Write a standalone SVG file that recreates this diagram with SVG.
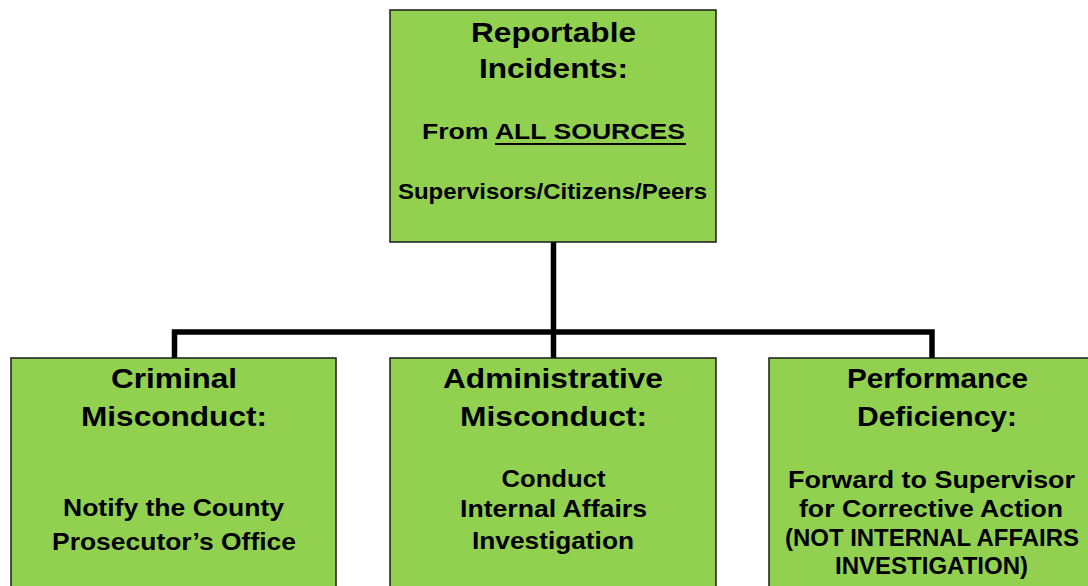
<svg xmlns="http://www.w3.org/2000/svg" width="1088" height="586" viewBox="0 0 1088 586">
<style>
.box{fill:#92D050;stroke:#1a1a1a;stroke-width:1.5}
.conn{fill:none;stroke:#000;stroke-width:5.5;stroke-linecap:butt;stroke-linejoin:miter}
text{font-family:"Liberation Sans",Arial,sans-serif;font-weight:bold;fill:#000;text-anchor:middle}
.h{font-size:28.5px}
.s{font-size:24px}
.t{font-size:21.5px}
.u{stroke:#000;stroke-width:2}
</style>
<rect width="1088" height="586" fill="#fff"/>
<g id="connectors">
<path class="conn" d="M553.5,242 V332"/>
<path class="conn" d="M174.5,358 V332 H932 V358"/>
<path class="conn" d="M553.5,332 V358"/>
</g>
<g id="node-reportable">
<rect class="box" x="390" y="10" width="326" height="232"/>
<text class="h" x="553.5" y="42" textLength="165" lengthAdjust="spacingAndGlyphs">Reportable</text>
<text class="h" x="553.5" y="78" textLength="149" lengthAdjust="spacingAndGlyphs">Incidents:</text>
<text class="t" x="553.5" y="138.5" textLength="263" lengthAdjust="spacingAndGlyphs">From ALL SOURCES</text>
<line class="u" x1="495" y1="144" x2="686" y2="144"/>
<text class="t" x="552.5" y="199" textLength="309" lengthAdjust="spacingAndGlyphs">Supervisors/Citizens/Peers</text>
</g>
<g id="node-criminal">
<rect class="box" x="11" y="358" width="325" height="240"/>
<text class="h" x="174" y="388" textLength="126" lengthAdjust="spacingAndGlyphs">Criminal</text>
<text class="h" x="174" y="426" textLength="186" lengthAdjust="spacingAndGlyphs">Misconduct:</text>
<text class="s" x="173.5" y="516" textLength="221" lengthAdjust="spacingAndGlyphs">Notify the County</text>
<text class="s" x="174" y="550" textLength="244" lengthAdjust="spacingAndGlyphs">Prosecutor’s Office</text>
</g>
<g id="node-administrative">
<rect class="box" x="390" y="358" width="326" height="240"/>
<text class="h" x="553" y="388" textLength="220" lengthAdjust="spacingAndGlyphs">Administrative</text>
<text class="h" x="553.5" y="426" textLength="187" lengthAdjust="spacingAndGlyphs">Misconduct:</text>
<text class="s" x="553.5" y="487" textLength="104" lengthAdjust="spacingAndGlyphs">Conduct</text>
<text class="s" x="553.5" y="517" textLength="187" lengthAdjust="spacingAndGlyphs">Internal Affairs</text>
<text class="s" x="553" y="549" textLength="162" lengthAdjust="spacingAndGlyphs">Investigation</text>
</g>
<g id="node-performance">
<rect class="box" x="769" y="358" width="330" height="240"/>
<text class="h" x="937.5" y="388" textLength="181" lengthAdjust="spacingAndGlyphs">Performance</text>
<text class="h" x="937" y="426" textLength="160" lengthAdjust="spacingAndGlyphs">Deficiency:</text>
<text class="s" x="931.5" y="488" textLength="287" lengthAdjust="spacingAndGlyphs">Forward to Supervisor</text>
<text class="s" x="931" y="517" textLength="264" lengthAdjust="spacingAndGlyphs">for Corrective Action</text>
<text class="s" x="932" y="546" textLength="294" lengthAdjust="spacingAndGlyphs">(NOT INTERNAL AFFAIRS</text>
<text class="s" x="931.5" y="574" textLength="193" lengthAdjust="spacingAndGlyphs">INVESTIGATION)</text>
</g>
</svg>
